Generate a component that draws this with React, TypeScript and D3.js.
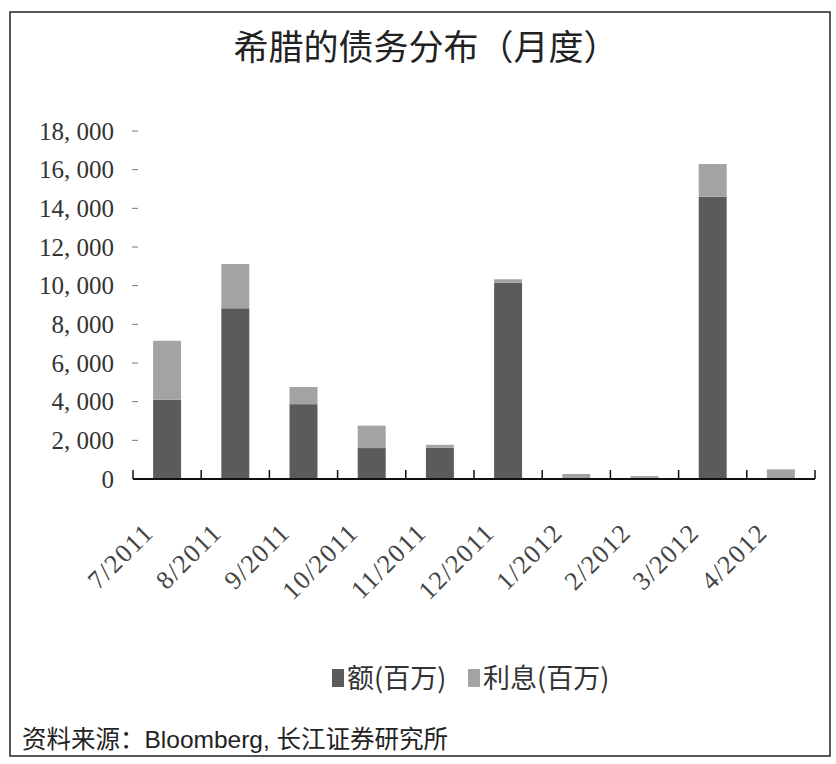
import React from "react";
import * as d3 from "d3";

const categories = ["7/2011", "8/2011", "9/2011", "10/2011", "11/2011", "12/2011", "1/2012", "2/2012", "3/2012", "4/2012"];
const principal = [4100, 8830, 3870, 1600, 1620, 10150, 0, 0, 14600, 0];
const interest = [3050, 2290, 890, 1160, 150, 180, 260, 150, 1690, 500];
const yTicks = [0, 2000, 4000, 6000, 8000, 10000, 12000, 14000, 16000, 18000];
const seriesNames = ["额(百万)", "利息(百万)"];
const title = "希腊的债务分布（月度）";
const source = "资料来源：Bloomberg, 长江证券研究所";

const W = 836;
const H = 764;
const colors = ["#5b5b5b", "#a3a3a3"];

export default function App() {
  const x = d3.scaleBand<string>().domain(categories).range([133, 815]).paddingInner(0.59).paddingOuter(0.295);
  const y = d3.scaleLinear().domain([0, 18000]).range([479, 131]);
  const rows = categories.map((c, i) => ({ cat: c, principal: principal[i], interest: interest[i] }));
  const stacked = d3.stack<any>().keys(["principal", "interest"])(rows);
  const fmt = (v: number) => d3.format(",")(v).replace(",", ", ");
  const step = x.step();
  const x0 = x.range()[0];
  const boundaries = d3.range(categories.length + 1).map((i) => x0 + i * step);

  return (
    <svg width={W} height={H} style={{ position: "absolute", left: 0, top: 0, background: "#fff" }}>
      <rect x={10} y={12} width={820} height={744} fill="#fff" stroke="#222" strokeWidth={1.5} />
      <text x={426} y={60} textAnchor="middle" fontFamily="'Noto Sans CJK SC'" fontSize={35} fill="#222">{title}</text>
      {yTicks.map((t) => (
        <g key={t}>
          <text x={114} y={y(t)} dy="0.35em" textAnchor="end" fontFamily="'Liberation Serif', serif" fontSize={25} fill="#333">{fmt(t)}</text>
          {t > 0 && <line x1={132} x2={138} y1={y(t)} y2={y(t)} stroke="#777" strokeWidth={1} />}
        </g>
      ))}
      {stacked.map((s, si) => (
        <g key={si} fill={colors[si]}>
          {s.map((d, i) => (
            d[1] - d[0] > 0 ? <rect key={i} x={x(categories[i])} y={y(d[1])} width={x.bandwidth()} height={y(d[0]) - y(d[1])} /> : null
          ))}
        </g>
      ))}
      <line x1={133} x2={815} y1={y(0)} y2={y(0)} stroke="#111" strokeWidth={2} />
      {boundaries.map((b, i) => (
        <line key={i} x1={b} x2={b} y1={y(0)} y2={y(0) - 9} stroke="#111" strokeWidth={1.5} />
      ))}
      {categories.map((c) => {
        const cx = (x(c) as number) + x.bandwidth() / 2 - 12;
        const cy = 534;
        return (
          <text key={c} x={cx} y={cy} textAnchor="end" transform={`rotate(-45 ${cx} ${cy})`} fontFamily="'Liberation Serif', serif" fontSize={26} letterSpacing={1.5} fill="#444">{c}</text>
        );
      })}
      <g fontFamily="'Noto Sans CJK SC'" fontSize={27} fill="#333">
        <rect x={332} y={669} width={12} height={18} fill={colors[0]} />
        <text x={347} y={688}>{seriesNames[0]}</text>
        <rect x={468} y={669} width={12} height={18} fill={colors[1]} />
        <text x={483} y={688}>{seriesNames[1]}</text>
      </g>
      <text x={22} y={748} fontFamily="'Liberation Sans', 'Noto Sans CJK SC'" fontSize={24.5} fill="#222">{source}</text>
    </svg>
  );
}
